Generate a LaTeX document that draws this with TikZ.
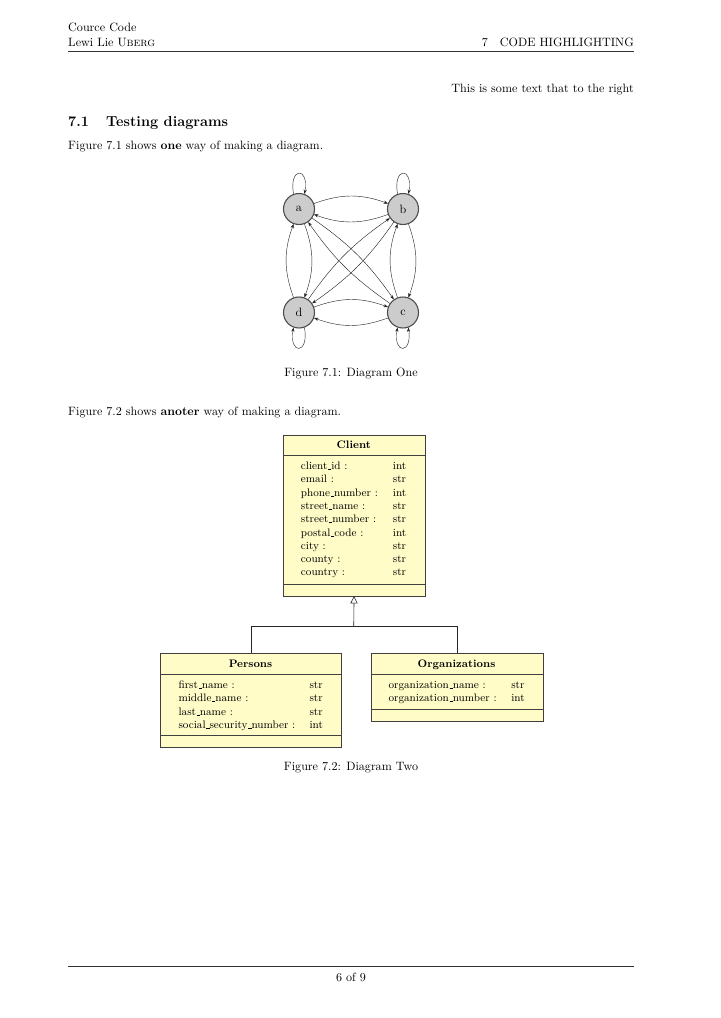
\documentclass[tikz,border=0pt]{standalone}
\usetikzlibrary{arrows.meta}
\def\pxu{0.82677pt}
\newcommand{\us}{\leavevmode\kern.06em\vbox{\hrule width.3em}}
\begin{document}
\begin{tikzpicture}[x=0.82677pt,y=-0.82677pt,
  txt/.style={anchor=base west, inner sep=0pt},
  txtr/.style={anchor=base east, inner sep=0pt},
  txtc/.style={anchor=base, inner sep=0pt},
  hrule/.style={draw=black!80, line width=0.4pt},
  vnode/.style={circle, draw=black!70, line width=0.9pt, fill=black!20, minimum size={31*\pxu}, inner sep=0pt},
  gedge/.style={-{Stealth[length=3.5pt,width=2.6pt]}, draw=black!85, line width=0.35pt},
  loopedge/.style={looseness=6.5},
  umlbox/.style={draw=black!75, fill=yellow!22, line width=0.5pt, anchor=north west, inner sep=0pt},
  umlsep/.style={draw=black!75, line width=0.5pt},
  umltitle/.style={anchor=base, inner sep=0pt, font=\small\bfseries},
  umlcol/.style={anchor=base west, inner sep=0pt, font=\small},
  inh/.style={draw=black!85, line width=0.5pt}
]
\fill[white] (0,0) rectangle (720,1018);
\useasboundingbox (0,0) rectangle (720,1018);

% header
\node[txt] (h1) at (68,32) {Cource Code};
\node[txt] (h2) at (68,46.5) {Lewi Lie U\textsc{berg}};
\node[txtr] (h3) at (634,46.5) {7\quad CODE HIGHLIGHTING};
\draw[hrule] (68,51) -- (634,51);

\node[txtr] (rt) at (634,93) {This is some text that to the right};
\node[txt, font=\large\bfseries] (secn) at (68,127) {7.1};
\node[txt, font=\large\bfseries] (sect) at (106,127) {Testing diagrams};
\node[txt] (p1) at (68,150) {Figure 7.1 shows \textbf{one} way of making a diagram.};

% graph
\node[vnode] (a) at (299,209) {a};
\node[vnode] (b) at (403,209) {b};
\node[vnode] (d) at (299,312.5) {d};
\node[vnode] (c) at (403,312.5) {c};

\path[gedge]
  (a) edge[bend left=20] (b)
  (b) edge[bend left=20] (a)
  (d) edge[bend left=20] (c)
  (c) edge[bend left=20] (d)
  (a) edge[bend left=20] (d)
  (d) edge[bend left=20] (a)
  (b) edge[bend left=20] (c)
  (c) edge[bend left=20] (b)
  (a) edge[bend left=10] (c)
  (c) edge[bend left=10] (a)
  (b) edge[bend left=10] (d)
  (d) edge[bend left=10] (b)
  (a.110) edge[loopedge, out=100, in=80] (a.70)
  (b.110) edge[loopedge, out=100, in=80] (b.70)
  (d.290) edge[loopedge, out=280, in=260] (d.250)
  (c.290) edge[loopedge, out=280, in=260] (c.250);

\node[txtc] (cap1) at (351,376) {Figure 7.1: Diagram One};
\node[txt] (p2) at (68,415) {Figure 7.2 shows \textbf{anoter} way of making a diagram.};

% UML: Client
\node[umlbox, minimum width={141.5*\pxu}, minimum height={161*\pxu}] (client) at (283,434.5) {};
\draw[umlsep] (283,455.5) -- (424.5,455.5);
\draw[umlsep] (283,584) -- (424.5,584);
\node[umltitle] (clientt) at (353.75,448.7) {Client};
\node[umlcol] (clientn) at (300.7,469.5) {\begin{tabular}[t]{@{}l@{}}
client\us id :\\ email :\\ phone\us number :\\ street\us name :\\ street\us number :\\ postal\us code :\\ city :\\ county :\\ country :\end{tabular}};
\node[umlcol] (clientv) at (392.7,469.5) {\begin{tabular}[t]{@{}l@{}}
int\\ str\\ int\\ str\\ str\\ int\\ str\\ str\\ str\end{tabular}};

% UML: Persons
\node[umlbox, minimum width={181*\pxu}, minimum height={94*\pxu}] (persons) at (160,652.5) {};
\draw[umlsep] (160,674) -- (341,674);
\draw[umlsep] (160,735.5) -- (341,735.5);
\node[umltitle] (personst) at (250.5,667) {Persons};
\node[umlcol] (personsn) at (178.3,688.5) {\begin{tabular}[t]{@{}l@{}}
first\us name :\\ middle\us name :\\ last\us name :\\ social\us security\us number :\end{tabular}};
\node[umlcol] (personsv) at (309.3,688.5) {\begin{tabular}[t]{@{}l@{}}
str\\ str\\ str\\ int\end{tabular}};

% UML: Organizations
\node[umlbox, minimum width={172*\pxu}, minimum height={68*\pxu}] (orgs) at (370.5,652.5) {};
\draw[umlsep] (370.5,674) -- (542.5,674);
\draw[umlsep] (370.5,709) -- (542.5,709);
\node[umltitle] (orgst) at (456.5,667) {Organizations};
\node[umlcol] (orgsn) at (388.3,688.5) {\begin{tabular}[t]{@{}l@{}}
organization\us name :\\ organization\us number :\end{tabular}};
\node[umlcol] (orgsv) at (511,688.5) {\begin{tabular}[t]{@{}l@{}}
str\\ int\end{tabular}};

% inheritance
\coordinate (join) at (353.75,626);
\draw[inh] (persons.north) |- (join);
\draw[inh] (orgs.north) |- (join);
\draw[inh, -{Triangle[open, length=6pt, width=6pt]}] (join) -- (client.south);

\node[txtc] (cap2) at (351,770) {Figure 7.2: Diagram Two};

% footer
\draw[hrule] (68,966) -- (634,966);
\node[txtc] (foot) at (351,981) {6 of 9};
\end{tikzpicture}
\end{document}
